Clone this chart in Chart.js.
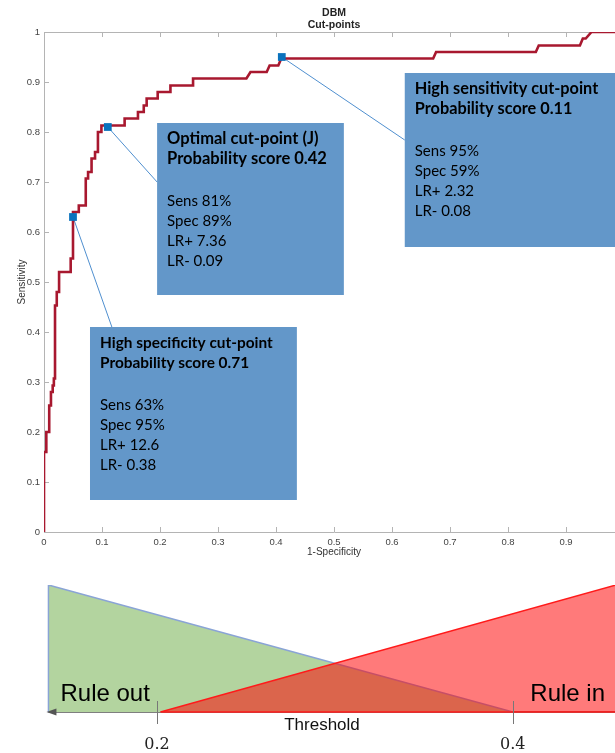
<!DOCTYPE html>
<html>
<head>
<meta charset="utf-8">
<script src="https://cdn.jsdelivr.net/npm/chart.js@4.4.1/dist/chart.umd.min.js"></script>
<style>
  html, body { margin: 0; padding: 0; background: #fff; overflow: hidden; width: 615px; height: 753px; }
  #roc { position: absolute; left: 0; top: 0; }
  #thr { position: absolute; left: 0; top: 570px; }
</style>
</head>
<body>
<canvas id="roc" width="668" height="565"></canvas>
<canvas id="thr" width="630" height="183"></canvas>
<script>
// ROC curve vertices: 1 - specificity and sensitivity
const rocFpr = [
  0, 0, 0.004, 0.004, 0.009, 0.009, 0.012, 0.012, 0.015, 0.015,
  0.017, 0.017, 0.019, 0.019, 0.022, 0.022, 0.026, 0.026, 0.046, 0.046,
  0.05, 0.05, 0.06, 0.06, 0.072, 0.072, 0.076, 0.076, 0.082, 0.082,
  0.088, 0.088, 0.093, 0.093, 0.099, 0.099, 0.139, 0.139, 0.162, 0.162,
  0.172, 0.172, 0.177, 0.177, 0.196, 0.196, 0.218, 0.218, 0.257, 0.257,
  0.349, 0.356, 0.384, 0.389, 0.404, 0.409, 0.671, 0.676, 0.848, 0.853,
  0.924, 0.929, 0.934, 0.944, 1
];
const rocSens = [
  0, 0.16, 0.16, 0.2, 0.2, 0.253, 0.253, 0.28, 0.28, 0.293,
  0.293, 0.307, 0.307, 0.453, 0.453, 0.48, 0.48, 0.52, 0.52, 0.547,
  0.547, 0.64, 0.64, 0.653, 0.653, 0.707, 0.707, 0.72, 0.72, 0.747,
  0.747, 0.76, 0.76, 0.8, 0.8, 0.813, 0.813, 0.827, 0.827, 0.84,
  0.84, 0.853, 0.853, 0.867, 0.867, 0.88, 0.88, 0.893, 0.893, 0.907,
  0.907, 0.92, 0.92, 0.933, 0.933, 0.947, 0.947, 0.96, 0.96, 0.973,
  0.973, 0.987, 0.987, 1, 1
];

// Cut-points: name, probability score, sensitivity %, specificity %, likelihood ratios
const cutNames = ['High specificity cut-point', 'Optimal cut-point (J)', 'High sensitivity cut-point'];
const cutProb = ['0.71', '0.42', '0.11'];
const cutSens = [63, 81, 95];
const cutSpec = [95, 89, 59];
const cutLRpos = ['12.6', '7.36', '2.32'];
const cutLRneg = ['0.38', '0.09', '0.08'];

// Threshold diagram
const thresholdTicks = [0.2, 0.4];
const ruleOutX = [0.139, 0.139, 0.4];
const ruleOutY = [0, 1, 0];
const ruleInX = [0.202, 0.458];
const ruleInY = [0, 1];

const zip = (xs, ys) => xs.map((v, i) => ({ x: v, y: ys[i] }));

const cutPoints = cutSens.map((s, i) => ({ x: (100 - cutSpec[i]) / 100, y: s / 100 }));
const cutLines = cutNames.map((n, i) => [
  n,
  'Probability score ' + cutProb[i],
  'Sens ' + cutSens[i] + '%',
  'Spec ' + cutSpec[i] + '%',
  'LR+ ' + cutLRpos[i],
  'LR- ' + cutLRneg[i]
]);

// Callout boxes (axis units), where each leader line meets its box, and heading size
const callouts = [
  { x0: 0.0793, x1: 0.436, y0: 0.41, y1: 0.064, ax: 0.117, ay: 0.41, head: 15.4 },
  { x0: 0.195, x1: 0.517, y0: 0.818, y1: 0.474, ax: 0.195, ay: 0.70, head: 16.5 },
  { x0: 0.622, x1: 1.0, y0: 0.918, y1: 0.57, ax: 0.622, ay: 0.784, head: 16.3 }
];
const lineOffsets = [16, 36, 78, 98, 118, 138];

const rocDecor = {
  id: 'rocDecor',
  beforeDatasetsDraw(chart) {
    const { ctx, chartArea: a, scales: { x, y } } = chart;
    ctx.save();
    ctx.strokeStyle = '#b4b4b4';
    ctx.lineWidth = 1;
    ctx.beginPath();
    ctx.moveTo(a.left, a.top + 0.5);
    ctx.lineTo(a.right, a.top + 0.5);
    x.ticks.forEach(t => {
      const px = Math.round(x.getPixelForValue(t.value)) + 0.5;
      ctx.moveTo(px, a.bottom); ctx.lineTo(px, a.bottom - 5);
      ctx.moveTo(px, a.top); ctx.lineTo(px, a.top + 5);
    });
    y.ticks.forEach(t => {
      const py = Math.round(y.getPixelForValue(t.value)) + 0.5;
      ctx.moveTo(a.left, py); ctx.lineTo(a.left + 5, py);
    });
    ctx.stroke();
    // leader lines from each cut-point to its callout
    ctx.strokeStyle = '#4f8fcf';
    ctx.lineWidth = 1;
    cutPoints.forEach((p, i) => {
      const c = callouts[i];
      ctx.beginPath();
      ctx.moveTo(x.getPixelForValue(p.x), y.getPixelForValue(p.y));
      ctx.lineTo(x.getPixelForValue(c.ax), y.getPixelForValue(c.ay));
      ctx.stroke();
    });
    ctx.restore();
  },
  afterDatasetsDraw(chart) {
    const { ctx, scales: { x, y } } = chart;
    ctx.save();
    callouts.forEach((c, i) => {
      const l = x.getPixelForValue(c.x0), r = x.getPixelForValue(c.x1);
      const t = y.getPixelForValue(c.y0), b = y.getPixelForValue(c.y1);
      ctx.fillStyle = '#6397c9';
      ctx.fillRect(l, t, r - l, b - t);
      ctx.fillStyle = '#000';
      ctx.textBaseline = 'middle';
      ctx.textAlign = 'left';
      cutLines[i].forEach((txt, k) => {
        ctx.font = k < 2 ? 'bold ' + c.head + 'px Lato' : '15px Lato';
        ctx.fillText(txt, l + 10, t + lineOffsets[k]);
      });
    });
    ctx.restore();
  },
  afterDraw(chart) {
    const { ctx, chartArea: a } = chart;
    const cx = (a.left + a.right) / 2;
    ctx.save();
    ctx.fillStyle = '#222';
    ctx.textAlign = 'center';
    ctx.textBaseline = 'middle';
    ctx.font = 'bold 10.5px "Liberation Sans"';
    ctx.fillText('DBM', cx, 13);
    ctx.fillText('Cut-points', cx, 25);
    ctx.restore();
  }
};

const plainNumber = v => String(+Number(v).toFixed(2));

new Chart(document.getElementById('roc'), {
  type: 'scatter',
  data: {
    datasets: [
      {
        data: cutPoints,
        pointStyle: 'rect',
        pointRadius: 5.5,
        backgroundColor: '#0a72bd',
        borderColor: '#0a72bd',
        borderWidth: 0,
        order: 0
      },
      {
        data: zip(rocFpr, rocSens),
        showLine: true,
        borderColor: '#a8182f',
        borderWidth: 2.6,
        pointRadius: 0,
        tension: 0,
        fill: false,
        order: 1
      }
    ]
  },
  options: {
    responsive: false,
    animation: false,
    events: [],
    layout: { padding: { top: 32, right: 44, left: 0, bottom: 0 } },
    plugins: { legend: { display: false }, tooltip: { enabled: false } },
    scales: {
      x: {
        type: 'linear', min: 0, max: 1,
        grid: { display: false, drawTicks: false },
        border: { display: true, color: '#b4b4b4', width: 1 },
        ticks: { stepSize: 0.1, autoSkip: false, maxRotation: 0, padding: 5, color: '#444',
                 callback: plainNumber, font: { family: 'Liberation Sans', size: 9.5 } },
        title: { display: true, text: '1-Specificity', color: '#333',
                 font: { family: 'Liberation Sans', size: 10 }, padding: { top: 0, bottom: 7 } },
        afterFit: s => { s.height = 33; }
      },
      y: {
        type: 'linear', min: 0, max: 1,
        grid: { display: false, drawTicks: false },
        border: { display: true, color: '#b4b4b4', width: 1 },
        ticks: { stepSize: 0.1, autoSkip: false, padding: 4, color: '#444',
                 callback: plainNumber, font: { family: 'Liberation Sans', size: 9.5 } },
        title: { display: true, text: 'Sensitivity', color: '#333',
                 font: { family: 'Liberation Sans', size: 10 }, padding: { top: 16, bottom: 0 } },
        afterFit: s => { s.width = 44; }
      }
    }
  },
  plugins: [rocDecor]
});

const thrDecor = {
  id: 'thrDecor',
  beforeDatasetsDraw(chart) {
    const { ctx, chartArea: a, scales: { x } } = chart;
    const x0 = x.getPixelForValue(ruleOutX[0]);
    ctx.save();
    ctx.strokeStyle = '#555';
    ctx.lineWidth = 1.5;
    ctx.beginPath();
    ctx.moveTo(x0, a.bottom);
    ctx.lineTo(a.right, a.bottom);
    ctx.stroke();
    ctx.restore();
  },
  afterDatasetsDraw(chart) {
    const { ctx, chartArea: a, scales: { x } } = chart;
    const x0 = x.getPixelForValue(ruleOutX[0]);
    ctx.save();
    // red edge of the rule-in region along the axis
    ctx.strokeStyle = '#ff1a1a';
    ctx.lineWidth = 1.5;
    ctx.beginPath();
    ctx.moveTo(x.getPixelForValue(ruleInX[0]), a.bottom);
    ctx.lineTo(a.right, a.bottom);
    ctx.stroke();
    // arrow head on the left end of the threshold axis
    ctx.fillStyle = '#555';
    ctx.beginPath();
    ctx.moveTo(x0 - 2, a.bottom);
    ctx.lineTo(x0 + 8, a.bottom - 3.5);
    ctx.lineTo(x0 + 8, a.bottom + 3.5);
    ctx.closePath();
    ctx.fill();
    // tick marks crossing the axis
    ctx.strokeStyle = '#777';
    ctx.lineWidth = 1;
    ctx.beginPath();
    x.ticks.forEach(t => {
      const px = Math.round(x.getPixelForValue(t.value)) + 0.5;
      ctx.moveTo(px, a.bottom - 11);
      ctx.lineTo(px, a.bottom + 12);
    });
    ctx.stroke();
    ctx.fillStyle = '#000';
    ctx.font = '24px "Liberation Sans"';
    ctx.textBaseline = 'alphabetic';
    ctx.textAlign = 'left';
    ctx.fillText('Rule out', x0 + 12, a.bottom - 11);
    ctx.textAlign = 'right';
    ctx.fillText('Rule in', a.right - 11, a.bottom - 11);
    ctx.restore();
  }
};

new Chart(document.getElementById('thr'), {
  type: 'scatter',
  data: {
    datasets: [
      {
        data: zip(ruleInX, ruleInY),
        showLine: true,
        fill: 'origin',
        backgroundColor: 'rgba(255, 0, 0, 0.52)',
        borderColor: '#ff1a1a',
        borderWidth: 1.5,
        pointRadius: 0,
        tension: 0,
        order: 0
      },
      {
        data: zip(ruleOutX, ruleOutY),
        showLine: true,
        fill: 'origin',
        backgroundColor: '#b3d49f',
        borderColor: '#8aa4d6',
        borderWidth: 1.5,
        pointRadius: 0,
        tension: 0,
        order: 1
      }
    ]
  },
  options: {
    responsive: false,
    animation: false,
    events: [],
    layout: { padding: { top: 15, right: 14, left: 28, bottom: 0 } },
    plugins: { legend: { display: false }, tooltip: { enabled: false } },
    scales: {
      x: {
        type: 'linear', min: 0.1275, max: 0.458,
        afterBuildTicks: s => { s.ticks = thresholdTicks.map(v => ({ value: v })); },
        grid: { display: false, drawTicks: false },
        border: { display: false },
        ticks: { autoSkip: false, maxRotation: 0, padding: 23, color: '#222',
                 font: { family: 'DejaVu Serif', size: 16 } },
        title: { display: true, text: 'Threshold', color: '#111',
                 font: { family: 'Liberation Sans', size: 17 }, padding: { top: 0, bottom: 17 } },
        afterFit: s => { s.height = 41; }
      },
      y: { type: 'linear', min: 0, max: 1, display: false }
    }
  },
  plugins: [thrDecor]
});
</script>
</body>
</html>
